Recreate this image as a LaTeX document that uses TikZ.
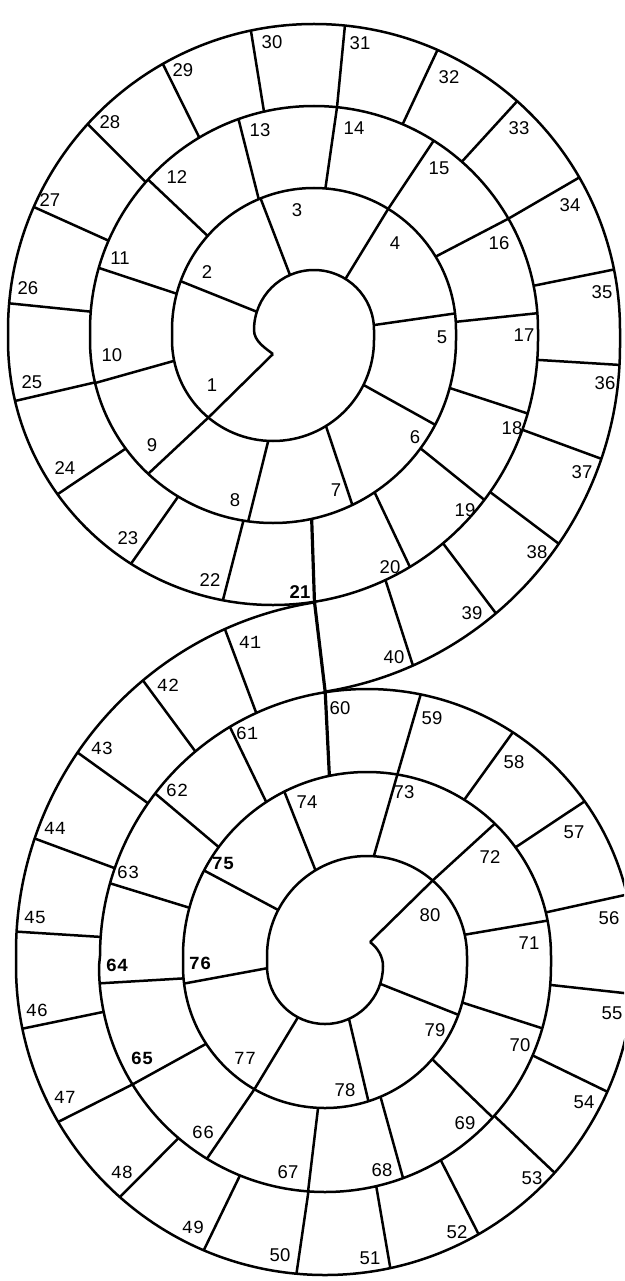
\documentclass[tikz,border=0pt]{standalone}
\usepackage{fontspec}
\setmainfont{Liberation Sans}
\newfontfamily\celltt{Liberation Mono}
\usetikzlibrary{calc}

\begin{document}
\begin{tikzpicture}[x=1pt, y=-1pt, line join=round,
    wall/.style={line width=2.5pt},
    heavy/.style={line width=3.2pt},
    num/.style={font=\fontsize{18.5}{22}\selectfont, inner sep=0pt},
    numbf/.style={font=\bfseries\fontsize{18.5}{22}\selectfont, inner sep=0pt},
    numtt/.style={font=\celltt\fontsize{18.5}{22}\selectfont, inner sep=0pt},
    numttbf/.style={font=\celltt\bfseries\fontsize{18.5}{22}\selectfont, inner sep=0pt}]
    \useasboundingbox (0,0) rectangle (624,1281);
    \clip (0,0) rectangle (624,1281);
    % centres of the half turns
    \coordinate (topN) at (314,330);
    \coordinate (topS) at (273,340);
    \coordinate (topS4) at (270,346);
    \coordinate (botS) at (325,966);
    \coordinate (botN) at (367,956);
    \coordinate (botN4) at (370,952);
    \coordinate (hookT) at (273,354);
    \coordinate (hookB) at (370,942);
    \coordinate (J1) at ($(topS)+(81:265)$);
    \coordinate (J2) at ($(botN)+(261:267)$);

    % upper spiral
    \draw[wall] (hookT) .. controls (265,348) and (254,341) .. (254,330)
        arc[start angle=180, end angle=360, radius=60] -- (374,340)
        arc[start angle=0, end angle=180, radius=101] -- (172,330)
        arc[start angle=180, end angle=360, radius=142] -- (456,340)
        arc[start angle=0, end angle=180, radius=183] -- (90,330)
        arc[start angle=180, end angle=360, radius=224] -- (538,340)
        arc[start angle=0, end angle=180, radius=265] -- (8,330)
        arc[start angle=180, end angle=360, radius=306] -- (620,346)
        arc[start angle=0, end angle=81, radius=350] -- (J2);
    \foreach \a/\b in {197.7/200.1, 246.4/247.9, 301.6/301.5, 355.3/353.3}
        \draw[wall] ($(topN)+(\a:60)$) -- ($(topN)+(\b:142)$);
    \foreach \a/\b in {194.8/196.1, 221.5/222.2, 247.1/250.3, 274.6/275.9, 301.5/302.3, 328.9/330.2, 356.7/355.7}
        \draw[wall] ($(topN)+(\a:142)$) -- ($(topN)+(\b:224)$);
    \foreach \a/\b in {184.7/185, 203.5/203.7, 221.3/222.3, 239.2/240.4, 257.1/258.1, 275.9/275.8, 293.3/293.8, 311.3/311.6, 330.2/330.1, 348.6/348.6}
        \draw[wall] ($(topN)+(\a:224)$) -- ($(topN)+(\b:306)$);
    \foreach \a/\b in {26.4/27.6, 58.4/64.3, 92.7/97.8, 129.8/133, 168.1/166.4}
        \draw[wall] ($(topS)+(\a:101)$) -- ($(topS)+(\b:183)$);
    \foreach \a/\b in {15.2/16.1, 36.3/37.1, 56.3/58.9, 99.3/100.9, 121.2/122.4, 143.6/144.4, 166.6/166.7}
        \draw[wall] ($(topS)+(\a:183)$) -- ($(topS)+(\b:265)$);
    \foreach \a/\b in {4.3/3.1, 19.8/18.8, 35/34.4, 50.1/49.8, 64.9/65.9}
        \draw[wall] ($(topS)+(\a:265)$) -- ($(topS4)+(\b:350)$);
    \draw[wall] (hookT) -- ($(topS)+(129.8:101)$);

    % lower spiral
    \draw[wall] (hookB) .. controls (378,948) and (383,957) .. (383,966)
        arc[start angle=0, end angle=180, radius=58] -- (267,956)
        arc[start angle=180, end angle=360, radius=100] -- (467,966)
        arc[start angle=0, end angle=180, radius=142] -- (183,956)
        arc[start angle=180, end angle=360, radius=184] -- (551,966)
        arc[start angle=0, end angle=180, radius=226] -- (100,956)
        arc[start angle=180, end angle=360, radius=267] -- (634,966)
        arc[start angle=0, end angle=180, radius=309] -- (16,952)
        arc[start angle=180, end angle=261, radius=354] -- (J1);
    \foreach \a/\b in {17.9/20.1, 65.6/72.2, 117.8/119.8, 177.8/172.9}
        \draw[wall] ($(botS)+(\a:58)$) -- ($(botS)+(\b:142)$);
    \foreach \a/\b in {14.9/16, 41/42.1, 67/69.8, 92.8/94.3, 119.8/121.5, 146.8/148.4, 175/175.6}
        \draw[wall] ($(botS)+(\a:142)$) -- ($(botS)+(\b:226)$);
    \foreach \a/\b in {4.8/5.2, 23.3/24, 41.5/42, 59.2/60.2, 76.9/77.8, 94.2/95.3, 112.1/113.1, 130.4/131.6, 148.4/149.7, 168.3/168.3}
        \draw[wall] ($(botS)+(\a:226)$) -- ($(botS)+(\b:309)$);
    \foreach \a/\b in {347.7/348.9, 311/314, 273.9/279.5, 239/243.3, 207.4/207.7}
        \draw[wall] ($(botN)+(\a:100)$) -- ($(botN)+(\b:184)$);
    \foreach \a/\b in {346.3/346.7, 323.8/324.6, 301.9/303.1, 279.5/281.6, 236.8/239.1, 216.3/217.5, 195.2/195.8}
        \draw[wall] ($(botN)+(\a:184)$) -- ($(botN)+(\b:267)$);
    \foreach \a/\b in {245.5/245.8, 230/230.1, 214.9/214.3, 199.2/198.7, 184.1/183.3}
        \draw[wall] ($(botN)+(\a:267)$) -- ($(botN4)+(\b:354)$);
    \draw[wall] (hookB) -- ($(botN)+(311:100)$);

    % where the track passes from one spiral to the other
    \draw[heavy] ($(topS)+(77.8:183)$) -- (J1) -- (J2) -- ($(botN)+(258.2:184)$);

    % cell numbers
    \foreach \n/\x/\y in {1/212/385, 2/207/272, 3/297/210, 4/395/243, 5/442/337,
        6/415/437, 7/336/490, 8/235/500, 9/152/445, 10/112/355, 11/120/258,
        12/177/177, 13/260/130, 14/354/128, 15/439/168, 16/499/243, 17/524/335,
        18/512/428, 19/465/510, 20/390/567, 22/210/580, 23/128/538, 24/65/468,
        25/32/382, 26/28/288, 27/50/200, 28/110/122, 29/183/70, 30/272/42,
        31/360/43, 32/449/77, 33/519/128, 34/570/205, 35/602/292, 36/605/383,
        37/582/472, 38/537/552, 39/472/613, 40/394/657, 50/280/1255, 51/370/1258,
        52/457/1232, 53/532/1178, 54/584/1102, 55/612/1013, 56/609/918,
        57/574/832, 58/514/762, 59/432/718, 60/340/708, 67/288/1172, 68/382/1170,
        69/465/1123, 70/520/1045, 71/529/943, 72/490/857, 73/404/792,
        74/307/802, 78/345/1090, 79/435/1030, 80/430/915}
        \node[num] (c\n) at (\x,\y) {\n};
    \node[numbf] (c21) at (300,592) {21};
    \foreach \n/\x/\y in {41/250/642, 42/168/685, 43/102/748, 44/55/828,
        45/35/917, 46/37/1010, 47/65/1097, 48/122/1172, 49/193/1227,
        61/247/733, 62/177/790, 63/128/872, 66/203/1132, 77/245/1058}
        \node[numtt] (c\n) at (\x,\y) {\n};
    \foreach \n/\x/\y in {64/117/965, 65/142/1058, 75/223/863, 76/200/963}
        \node[numttbf] (c\n) at (\x,\y) {\n};
\end{tikzpicture}
\end{document}
